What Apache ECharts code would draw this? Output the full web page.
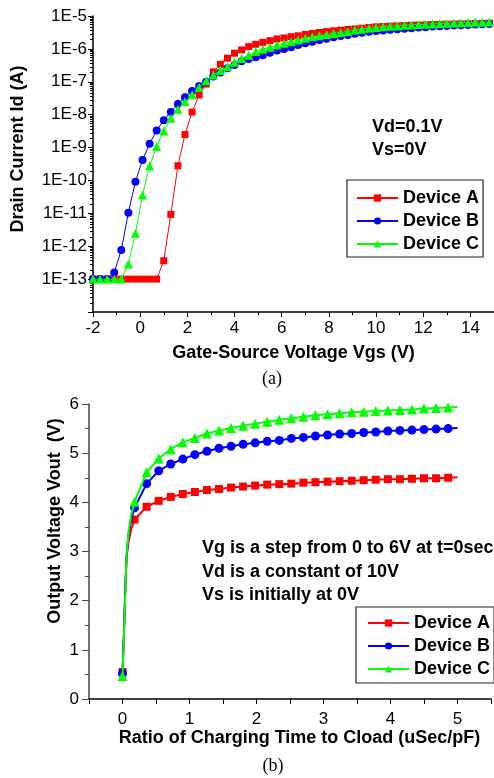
<!DOCTYPE html>
<html><head><meta charset="utf-8">
<script src="https://cdn.jsdelivr.net/npm/echarts@6/dist/echarts.min.js"></script>
<style>html,body{margin:0;padding:0;background:#fff}#c{width:494px;height:778px}</style>
</head><body><div id="c"></div>
<script>
// ---- Chart (a): Id vs Vgs ----
const vgs = [-2, -1.7, -1.4, -1.1, -0.8, -0.5, -0.2, 0.1, 0.4, 0.7,
  1.0, 1.3, 1.6, 1.9, 2.2, 2.5, 2.8, 3.1, 3.4, 3.7,
  4.0, 4.3, 4.6, 4.9, 5.2, 5.5, 5.8, 6.1, 6.4, 6.7,
  7.0, 7.3, 7.6, 7.9, 8.2, 8.5, 8.8, 9.1, 9.4, 9.7,
  10.0, 10.3, 10.6, 10.9, 11.2, 11.5, 11.8, 12.1, 12.4, 12.7,
  13.0, 13.3, 13.6, 13.9, 14.2, 14.5, 14.8];
const idDeviceA = [1e-13, 1e-13, 1e-13, 1e-13, 1e-13, 1e-13, 1e-13, 1e-13, 1e-13, 1e-13,
  3.6e-13, 9.3e-12, 2.8e-10, 2.5e-9, 1.2e-8, 4.0e-8, 8.5e-8, 2.0e-7, 3.4e-7, 5.2e-7,
  7.4e-7, 9.3e-7, 1.17e-6, 1.38e-6, 1.58e-6, 1.78e-6, 2.0e-6, 2.15e-6, 2.35e-6, 2.5e-6,
  2.75e-6, 2.95e-6, 3.15e-6, 3.35e-6, 3.55e-6, 3.7e-6, 3.9e-6, 4.05e-6, 4.25e-6, 4.5e-6,
  4.68e-6, 4.79e-6, 4.9e-6, 5.0e-6, 5.13e-6, 5.25e-6, 5.3e-6, 5.37e-6, 5.5e-6, 5.55e-6,
  5.62e-6, 5.68e-6, 5.75e-6, 5.8e-6, 5.89e-6, 5.95e-6, 6.03e-6];
const idDeviceB = [1e-13, 1e-13, 1e-13,
  1.6e-13, 7.7e-13, 1.05e-11, 9.2e-11, 4.2e-10, 1.3e-9, 3.3e-9,
  6.8e-9, 1.2e-8, 2.1e-8, 3.4e-8, 5.2e-8, 7.4e-8, 1.0e-7, 1.45e-7, 1.9e-7, 2.57e-7,
  3.24e-7, 4.2e-7, 4.9e-7, 5.6e-7, 6.46e-7, 7.6e-7, 8.9e-7, 1.0e-6, 1.12e-6, 1.32e-6,
  1.48e-6, 1.66e-6, 1.86e-6, 2.04e-6, 2.24e-6, 2.45e-6, 2.63e-6, 2.88e-6, 3.09e-6, 3.31e-6,
  3.47e-6, 3.63e-6, 3.8e-6, 3.98e-6, 4.07e-6, 4.27e-6, 4.47e-6, 4.57e-6, 4.79e-6, 4.9e-6,
  5.0e-6, 5.13e-6, 5.25e-6, 5.37e-6, 5.5e-6, 5.62e-6, 5.75e-6];
const idDeviceC = [1e-13, 1e-13, 1e-13, 1e-13, 1e-13,
  2.9e-13, 2.5e-12, 3.6e-11, 2.8e-10, 1.07e-9,
  3.2e-9, 7.8e-9, 1.45e-8, 2.5e-8, 4.0e-8, 6.8e-8, 1.07e-7, 1.62e-7, 2.19e-7, 2.88e-7,
  3.9e-7, 5.13e-7, 6.46e-7, 8.3e-7, 9.8e-7, 1.12e-6, 1.32e-6, 1.48e-6, 1.66e-6, 1.86e-6,
  2.09e-6, 2.34e-6, 2.51e-6, 2.75e-6, 2.95e-6, 3.16e-6, 3.39e-6, 3.72e-6, 3.98e-6, 4.27e-6,
  4.47e-6, 4.68e-6, 4.9e-6, 5.0e-6, 5.25e-6, 5.37e-6, 5.5e-6, 5.62e-6, 5.75e-6, 5.89e-6,
  6.03e-6, 6.17e-6, 6.2e-6, 6.31e-6, 6.46e-6, 6.5e-6, 6.61e-6];

// ---- Chart (b): Vout vs charging time ratio ----
const chargeTime = [0, 0.02, 0.04, 0.06, 0.09, 0.13,
  0.18, 0.36, 0.54, 0.72, 0.90, 1.08, 1.26, 1.44, 1.62,
  1.80, 1.98, 2.16, 2.34, 2.52, 2.70, 2.88, 3.06, 3.24, 3.42, 3.60, 3.78, 3.96, 4.14, 4.32, 4.50, 4.68, 4.86,
  5.0];
const voutDeviceA = [0.55, 1.3, 2.2, 2.85, 3.2, 3.45,
  3.65, 3.91, 4.03, 4.11, 4.17, 4.21, 4.25, 4.27, 4.30,
  4.32, 4.34, 4.36, 4.37, 4.38, 4.40, 4.41, 4.42, 4.43, 4.44, 4.45, 4.46, 4.47, 4.47, 4.48, 4.49, 4.49, 4.50,
  4.51];
const voutDeviceB = [0.52, 1.25, 2.15, 2.9, 3.35, 3.65,
  3.89, 4.38, 4.64, 4.78, 4.88, 4.97, 5.04, 5.10, 5.14,
  5.18, 5.21, 5.24, 5.26, 5.30, 5.32, 5.35, 5.37, 5.39, 5.40, 5.42, 5.43, 5.45, 5.46, 5.47, 5.48, 5.49, 5.50,
  5.51];
const voutDeviceC = [0.47, 1.2, 2.1, 2.9, 3.4, 3.75,
  4.01, 4.61, 4.89, 5.08, 5.22, 5.31, 5.40, 5.46, 5.51,
  5.56, 5.60, 5.64, 5.68, 5.71, 5.74, 5.77, 5.79, 5.81, 5.83, 5.84, 5.86, 5.87, 5.88, 5.89, 5.91, 5.92, 5.93,
  5.94];
const markerStep = 0.18; // markers drawn every 0.18 on chart (b)

const deviceNames = ['Device A', 'Device B', 'Device C'];
const colors = ['#ff0000', '#0000ff', '#00ff00'];
const symbols = ['rect', 'circle', 'triangle'];

const SANS = '"Liberation Sans", Arial, sans-serif';
const SERIF = '"Liberation Serif", "Times New Roman", serif';

const chart = echarts.init(document.getElementById('c'), null, {renderer: 'canvas'});

const topData = [idDeviceA, idDeviceB, idDeviceC];
const botData = [voutDeviceA, voutDeviceB, voutDeviceC];
const topSymSize = [7, 8, 9];
const botSymSize = [8, 9, 10];

const series = [];
topData.forEach((arr, k) => {
  series.push({
    name: deviceNames[k], type: 'line', xAxisIndex: 0, yAxisIndex: 0,
    data: vgs.map((x, i) => [x, arr[i]]),
    symbol: symbols[k], symbolSize: topSymSize[k], showAllSymbol: true,
    lineStyle: {color: colors[k], width: 1},
    itemStyle: {color: colors[k]},
    emphasis: {disabled: true}, animation: false, z: 2 + k
  });
});
botData.forEach((arr, k) => {
  series.push({
    name: deviceNames[k], type: 'line', xAxisIndex: 1, yAxisIndex: 1,
    data: chargeTime.map((t, i) => {
      const q = t / markerStep;
      const isMarker = Math.abs(q - Math.round(q)) < 1e-6;
      return isMarker ? {value: [t, arr[i]]} : {value: [t, arr[i]], symbol: 'none'};
    }),
    symbol: symbols[k], symbolSize: botSymSize[k], showAllSymbol: true,
    lineStyle: {color: colors[k], width: 2},
    itemStyle: {color: colors[k]},
    emphasis: {disabled: true}, animation: false, z: 2 + k
  });
});

const legendCommon = {
  orient: 'vertical', itemWidth: 41, itemHeight: 9, itemGap: 5,
  borderColor: '#222', borderWidth: 1.2, backgroundColor: '#fff',
  textStyle: {fontFamily: SANS, fontWeight: 'bold', fontSize: 18, color: '#000'},
  selectedMode: false
};

const option = {
  backgroundColor: '#fff',
  animation: false,
  grid: [
    {left: 93, top: 16, width: 401, height: 296, containLabel: false},
    {left: 89, top: 404, width: 403, height: 295, containLabel: false}
  ],
  xAxis: [
    {
      type: 'value', gridIndex: 0, min: -2, max: 15, interval: 2,
      axisLine: {onZero: false, lineStyle: {color: '#000', width: 1.5}},
      axisTick: {length: 5, lineStyle: {color: '#000', width: 1}},
      minorTick: {show: true, splitNumber: 2, length: 3, lineStyle: {color: '#000', width: 1}},
      axisLabel: {fontFamily: SANS, fontSize: 17, color: '#000', margin: 8, showMaxLabel: false},
      splitLine: {show: false},
      name: 'Gate-Source Voltage Vgs (V)', nameLocation: 'middle', nameGap: 32,
      nameTextStyle: {fontFamily: SANS, fontWeight: 'bold', fontSize: 18, color: '#000'}
    },
    {
      type: 'value', gridIndex: 1, min: -0.5, max: 5.5, interval: 0.5,
      axisLine: {onZero: false, lineStyle: {color: '#000', width: 1.5}},
      axisTick: {length: 5, lineStyle: {color: '#000', width: 1}},
      axisLabel: {fontFamily: SANS, fontSize: 17, color: '#000', margin: 12,
        formatter: v => (Math.abs(v - Math.round(v)) < 1e-9 ? String(Math.round(v)) : '')},
      splitLine: {show: false},
      name: 'Ratio of Charging Time to Cload (uSec/pF)', nameLocation: 'middle', nameGap: 28,
      nameTextStyle: {fontFamily: SANS, fontWeight: 'bold', fontSize: 18, color: '#000', padding: [0, 0, 0, 19]}
    }
  ],
  yAxis: [
    {
      type: 'log', gridIndex: 0, logBase: 10, min: 1e-14, max: 1e-5,
      axisLine: {show: true, onZero: false, lineStyle: {color: '#000', width: 1.5}},
      axisTick: {show: true, length: 5, lineStyle: {color: '#000', width: 1}},
      minorTick: {show: true, splitNumber: 10, length: 3, lineStyle: {color: '#000', width: 1}},
      axisLabel: {fontFamily: SANS, fontSize: 17, color: '#000', margin: 6, showMinLabel: false,
        formatter: v => '1E' + Math.round(Math.log10(v))},
      splitLine: {show: false}
    },
    {
      type: 'value', gridIndex: 1, min: 0, max: 6, interval: 1,
      axisLine: {show: true, onZero: false, lineStyle: {color: '#444', width: 1.5}},
      axisTick: {show: true, length: 7, lineStyle: {color: '#444', width: 1}},
      minorTick: {show: true, splitNumber: 2, length: 4, lineStyle: {color: '#444', width: 1}},
      axisLabel: {fontFamily: SANS, fontSize: 17, color: '#000', margin: 10},
      splitLine: {show: false}
    }
  ],
  legend: [
    Object.assign({}, legendCommon, {
      left: 347, top: 180, padding: [9, 4, 4, 9],
      data: deviceNames.map((n, k) => ({name: n}))
    }),
    Object.assign({}, legendCommon, {
      left: 356, top: 607, padding: [7, 4, 5, 11],
      data: deviceNames.map((n, k) => ({name: n}))
    })
  ],
  graphic: [
    {type: 'text', x: 18, y: 149, rotation: Math.PI / 2,
      style: {text: 'Drain Current Id (A)', font: 'bold 18px ' + SANS, fill: '#000', textAlign: 'center', textVerticalAlign: 'middle'}},
    {type: 'text', x: 55, y: 521, rotation: Math.PI / 2,
      style: {text: 'Output Voltage Vout  (V)', font: 'bold 18px ' + SANS, fill: '#000', textAlign: 'center', textVerticalAlign: 'middle'}},
    {type: 'text', x: 372, y: 127,
      style: {text: 'Vd=0.1V', font: 'bold 18px ' + SANS, fill: '#000', textAlign: 'left', textVerticalAlign: 'middle'}},
    {type: 'text', x: 372, y: 150,
      style: {text: 'Vs=0V', font: 'bold 18px ' + SANS, fill: '#000', textAlign: 'left', textVerticalAlign: 'middle'}},
    {type: 'text', x: 202, y: 548,
      style: {text: 'Vg is a step from 0 to 6V at t=0sec', font: 'bold 18px ' + SANS, fill: '#000', textAlign: 'left', textVerticalAlign: 'middle'}},
    {type: 'text', x: 202, y: 572,
      style: {text: 'Vd is a constant of 10V', font: 'bold 18px ' + SANS, fill: '#000', textAlign: 'left', textVerticalAlign: 'middle'}},
    {type: 'text', x: 202, y: 595,
      style: {text: 'Vs is initially at 0V', font: 'bold 18px ' + SANS, fill: '#000', textAlign: 'left', textVerticalAlign: 'middle'}},
    {type: 'text', x: 272, y: 379,
      style: {text: '(a)', font: '18px ' + SERIF, fill: '#000', textAlign: 'center', textVerticalAlign: 'middle'}},
    {type: 'text', x: 273, y: 766,
      style: {text: '(b)', font: '18px ' + SERIF, fill: '#000', textAlign: 'center', textVerticalAlign: 'middle'}}
  ],
  series: series
};
chart.setOption(option);
</script>
</body></html>
